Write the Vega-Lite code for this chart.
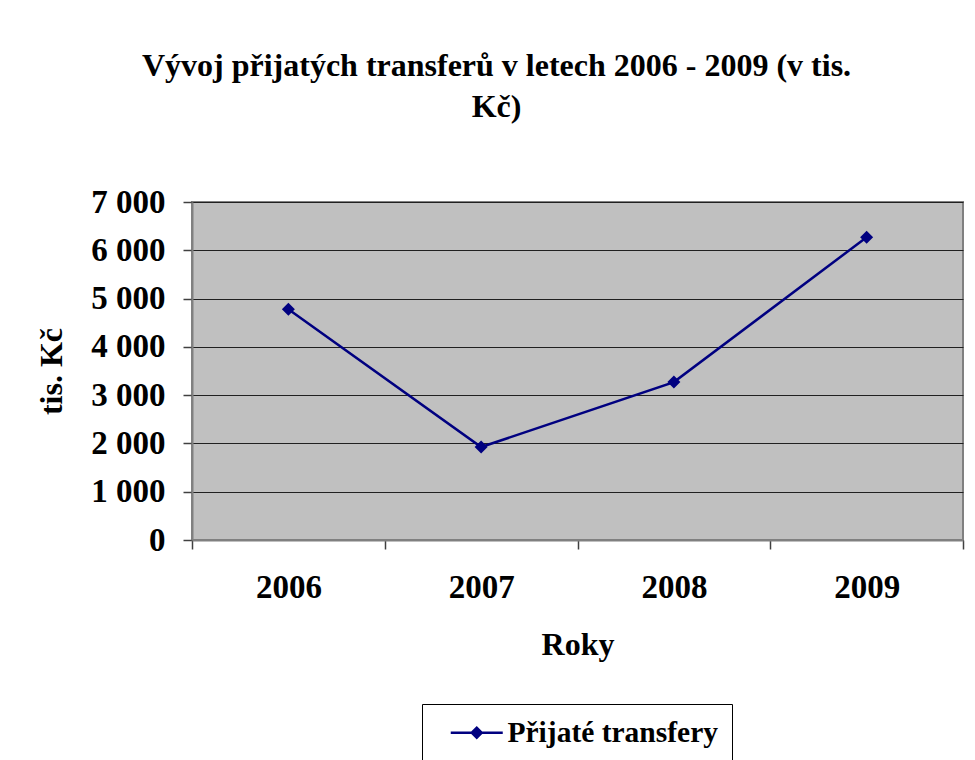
{
  "$schema": "https://vega.github.io/schema/vega-lite/v6.json",
  "autosize": "none",
  "width": 771,
  "height": 338,
  "padding": {"left": 192, "top": 202, "right": 12, "bottom": 220},
  "background": "white",
  "title": {
    "text": ["Vývoj přijatých transferů v letech 2006 - 2009 (v tis.", "Kč)"],
    "font": "Liberation Serif",
    "fontSize": 32,
    "fontWeight": "bold",
    "color": "black",
    "lineHeight": 41,
    "anchor": "middle",
    "dx": -81,
    "offset": 62
  },
  "data": {
    "values": [
      {"rok": "2006", "hodnota": 4780, "serie": "Přijaté transfery"},
      {"rok": "2007", "hodnota": 1925, "serie": "Přijaté transfery"},
      {"rok": "2008", "hodnota": 3270, "serie": "Přijaté transfery"},
      {"rok": "2009", "hodnota": 6270, "serie": "Přijaté transfery"}
    ]
  },
  "mark": {
    "type": "line",
    "strokeWidth": 2.5,
    "point": {"shape": "diamond", "size": 170, "filled": true, "color": "#000080"}
  },
  "encoding": {
    "x": {
      "field": "rok",
      "type": "ordinal",
      "title": "Roky",
      "scale": {"type": "band", "paddingInner": 0, "paddingOuter": 0},
      "axis": {
        "labelAngle": 0,
        "labelFont": "Liberation Serif",
        "labelFontSize": 33,
        "labelFontWeight": "bold",
        "labelColor": "black",
        "labelPadding": 22,
        "titleFont": "Liberation Serif",
        "titleFontSize": 32,
        "titleFontWeight": "bold",
        "titleColor": "black",
        "titlePadding": 25,
        "domainColor": "#808080",
        "domainWidth": 2,
        "tickColor": "#404040",
        "tickWidth": 1.5,
        "tickSize": 9,
        "tickBand": "extent",
        "grid": false
      }
    },
    "y": {
      "field": "hodnota",
      "type": "quantitative",
      "title": "tis. Kč",
      "scale": {"domain": [0, 7000], "nice": false},
      "axis": {
        "values": [0, 1000, 2000, 3000, 4000, 5000, 6000, 7000],
        "labelExpr": "replace(format(datum.value, ','), ',', ' ')",
        "labelFont": "Liberation Serif",
        "labelFontSize": 33,
        "labelFontWeight": "bold",
        "labelColor": "black",
        "labelPadding": 18,
        "titleFont": "Liberation Serif",
        "titleFontSize": 32,
        "titleFontWeight": "bold",
        "titleColor": "black",
        "titlePadding": 22,
        "domainColor": "#808080",
        "domainWidth": 2,
        "tickColor": "#404040",
        "tickWidth": 1.5,
        "tickSize": 9,
        "grid": true,
        "gridColor": "#202020",
        "gridWidth": 1.2,
        "gridOpacity": 1
      }
    },
    "color": {
      "field": "serie",
      "type": "nominal",
      "scale": {"range": ["#000080"]},
      "legend": {
        "title": null,
        "orient": "none",
        "legendX": 230,
        "legendY": 502,
        "strokeColor": "black",
        "fillColor": "white",
        "padding": 14,
        "labelFont": "Liberation Serif",
        "labelFontSize": 29.5,
        "labelFontWeight": "bold",
        "labelColor": "black",
        "labelLimit": 500,
        "symbolType": "M-2,0L2,0M-0.38,0L0,-0.38L0.38,0L0,0.38Z",
        "symbolSize": 676,
        "symbolStrokeWidth": 2.5,
        "symbolFillColor": "#000080",
        "symbolStrokeColor": "#000080",
        "symbolOffset": 26,
        "labelOffset": 16
      }
    }
  },
  "config": {
    "view": {"fill": "#C0C0C0", "stroke": "#808080", "strokeWidth": 2}
  }
}
